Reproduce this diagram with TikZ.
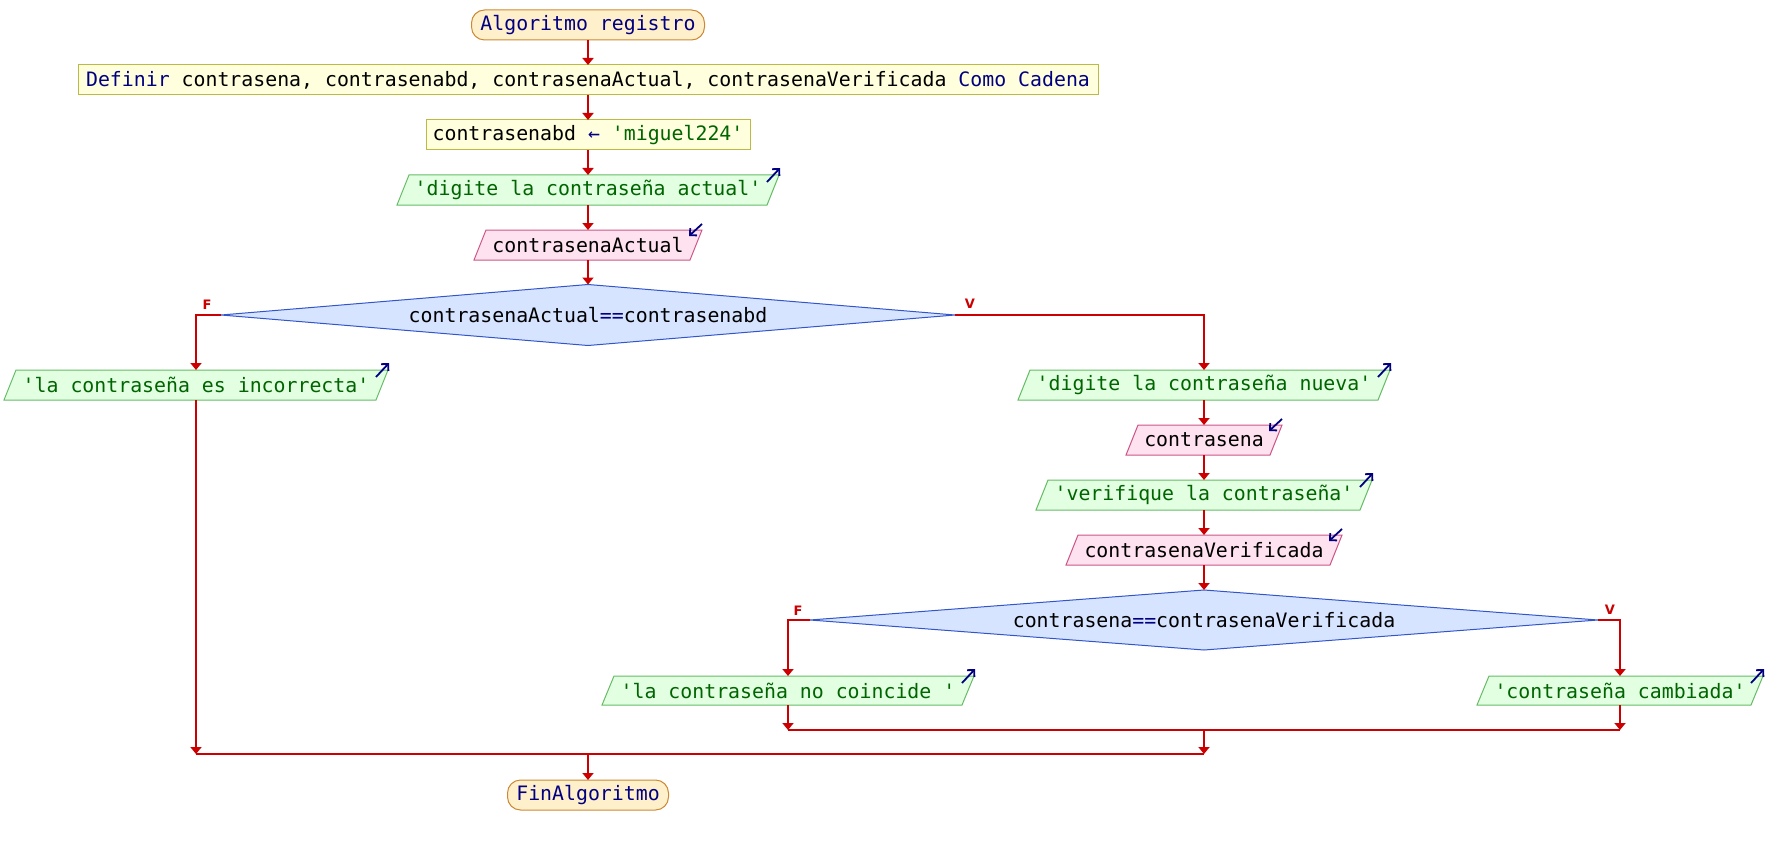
\documentclass[tikz,border=0pt]{standalone}
\usepackage{fontspec}
\setmonofont{DejaVu Sans Mono}
\newfontfamily\lblfont{DejaVu Sans}
\usetikzlibrary{shapes.geometric,arrows.meta}
\definecolor{kw}{HTML}{000080}
\definecolor{strc}{HTML}{006400}
\definecolor{conncol}{HTML}{CC0000}
\definecolor{termfill}{HTML}{FFF0CC}
\definecolor{termdraw}{HTML}{CC8833}
\definecolor{procfill}{HTML}{FFFFDD}
\definecolor{procdraw}{HTML}{BBBB44}
\definecolor{outfill}{HTML}{E2FFE2}
\definecolor{outdraw}{HTML}{66BB66}
\definecolor{infill}{HTML}{FFE2F0}
\definecolor{indraw}{HTML}{CC5588}
\definecolor{diafill}{HTML}{D6E4FF}
\definecolor{diadraw}{HTML}{3355CC}
\newcommand{\outnode}[6]{%
  \path[outshape] (#2,#5) -- ({#2+12},#4) -- (#3,#4) -- ({#3-12},#5) -- cycle;
  \node[txt, text=strc, minimum width={#3-#2}, minimum height={#5-#4}] (#1) at ({(#2+#3)/2},{(#4+#5)/2}) {#6};
  \draw[icon] ({#3-12},{#4+7}) -- ({#3+1},{#4-7});
}
\newcommand{\innode}[6]{%
  \path[inshape] (#2,#5) -- ({#2+12},#4) -- (#3,#4) -- ({#3-12},#5) -- cycle;
  \node[txt, minimum width={#3-#2}, minimum height={#5-#4}] (#1) at ({(#2+#3)/2},{(#4+#5)/2}) {#6};
  \draw[icon] (#3,{#4-6}) -- ({#3-13},{#4+6});
}
\begin{document}
\begin{tikzpicture}[x=1pt,y=-1pt,
  font=\fontsize{19.85}{22}\selectfont\ttfamily,
  txt/.style={inner sep=0pt, outer sep=0pt},
  term/.style={txt, rectangle, rounded corners=13pt, draw=termdraw, fill=termfill, line width=1pt, text=kw},
  proc/.style={txt, rectangle, draw=procdraw, fill=procfill, line width=1pt},
  outshape/.style={draw=outdraw, fill=outfill, line width=1pt},
  inshape/.style={draw=indraw, fill=infill, line width=1pt},
  dia/.style={txt, diamond, draw=diadraw, fill=diafill, line width=1pt},
  icon/.style={draw=kw, line width=1.8pt, -{Straight Barb[length=5pt,width=10pt]}},
  conn/.style={draw=conncol, line width=2pt, -{Triangle[width=11pt,length=7pt]}},
  plain/.style={draw=conncol, line width=2pt},
  lbl/.style={inner sep=0pt, text=conncol, font=\lblfont\bfseries\fontsize{13}{13}\selectfont}]
\useasboundingbox (0,0) rectangle (1768,845);

% nodes
\node[term, minimum width=233, minimum height=30] (start) at (588,25) {Algoritmo registro};
\node[proc, minimum width=1020, minimum height=30] (def) at (588,80) {\textcolor{kw}{Definir} contrasena, contrasenabd, contrasenaActual, contrasenaVerificada \textcolor{kw}{Como Cadena}};
\node[proc, minimum width=324, minimum height=30] (asg) at (588,135) {contrasenabd \textcolor{kw}{←} \textcolor{strc}{'miguel224'}};
\outnode{o1}{397}{779}{175}{205}{'digite la contraseña actual'}
\innode{i1}{474}{702}{230}{260}{contrasenaActual}
\node[dia, aspect=12, minimum width=734, minimum height=61] (d1) at (588,315) {contrasenaActual\textcolor{kw}{==}contrasenabd};
\outnode{o2}{4}{388}{370}{400}{'la contraseña es incorrecta'}
\outnode{o3}{1018}{1390}{370}{400}{'digite la contraseña nueva'}
\innode{i2}{1126}{1282}{425}{455}{contrasena}
\outnode{o4}{1036}{1372}{480}{510}{'verifique la contraseña'}
\innode{i3}{1066}{1342}{535}{565}{contrasenaVerificada}
\node[dia, aspect=13, minimum width=788, minimum height=60] (d2) at (1204,620) {contrasena\textcolor{kw}{==}contrasenaVerificada};
\outnode{o5}{602}{974}{676}{705}{'la contraseña no coincide '}
\outnode{o6}{1477}{1763}{676}{705}{'contraseña cambiada'}
\node[term, minimum width=161, minimum height=30] (fin) at (588,795) {FinAlgoritmo};

% labels
\node[lbl] (f1) at (207,305) {F};
\node[lbl] (v1) at (970,304) {V};
\node[lbl] (f2) at (798,611) {F};
\node[lbl] (v2) at (1610,610) {V};

% merge points
\coordinate (mA) at (788,730);
\coordinate (mB) at (1620,730);
\coordinate (mC) at (1204,730);
\coordinate (mD) at (1204,754);
\coordinate (mE) at (196,754);
\coordinate (mF) at (588,754);

% connectors
\draw[conn] (start.south) -- (def.north);
\draw[conn] (def.south) -- (asg.north);
\draw[conn] (asg.south) -- (o1.north);
\draw[conn] (o1.south) -- (i1.north);
\draw[conn] (i1.south) -- (d1.north);
\draw[conn] (d1.west) -| (o2.north);
\draw[conn] (d1.east) -| (o3.north);
\draw[conn] (o3.south) -- (i2.north);
\draw[conn] (i2.south) -- (o4.north);
\draw[conn] (o4.south) -- (i3.north);
\draw[conn] (i3.south) -- (d2.north);
\draw[conn] (d2.west) -| (o5.north);
\draw[conn] (d2.east) -| (o6.north);
\draw[conn] (o5.south) -- (mA);
\draw[conn] (o6.south) -- (mB);
\draw[plain] (mA) -- (mB);
\draw[conn] (mC) -- (mD);
\draw[conn] (o2.south) -- (mE);
\draw[plain] (mE) -- (mD);
\draw[conn] (mF) -- (fin.north);
\end{tikzpicture}
\end{document}
